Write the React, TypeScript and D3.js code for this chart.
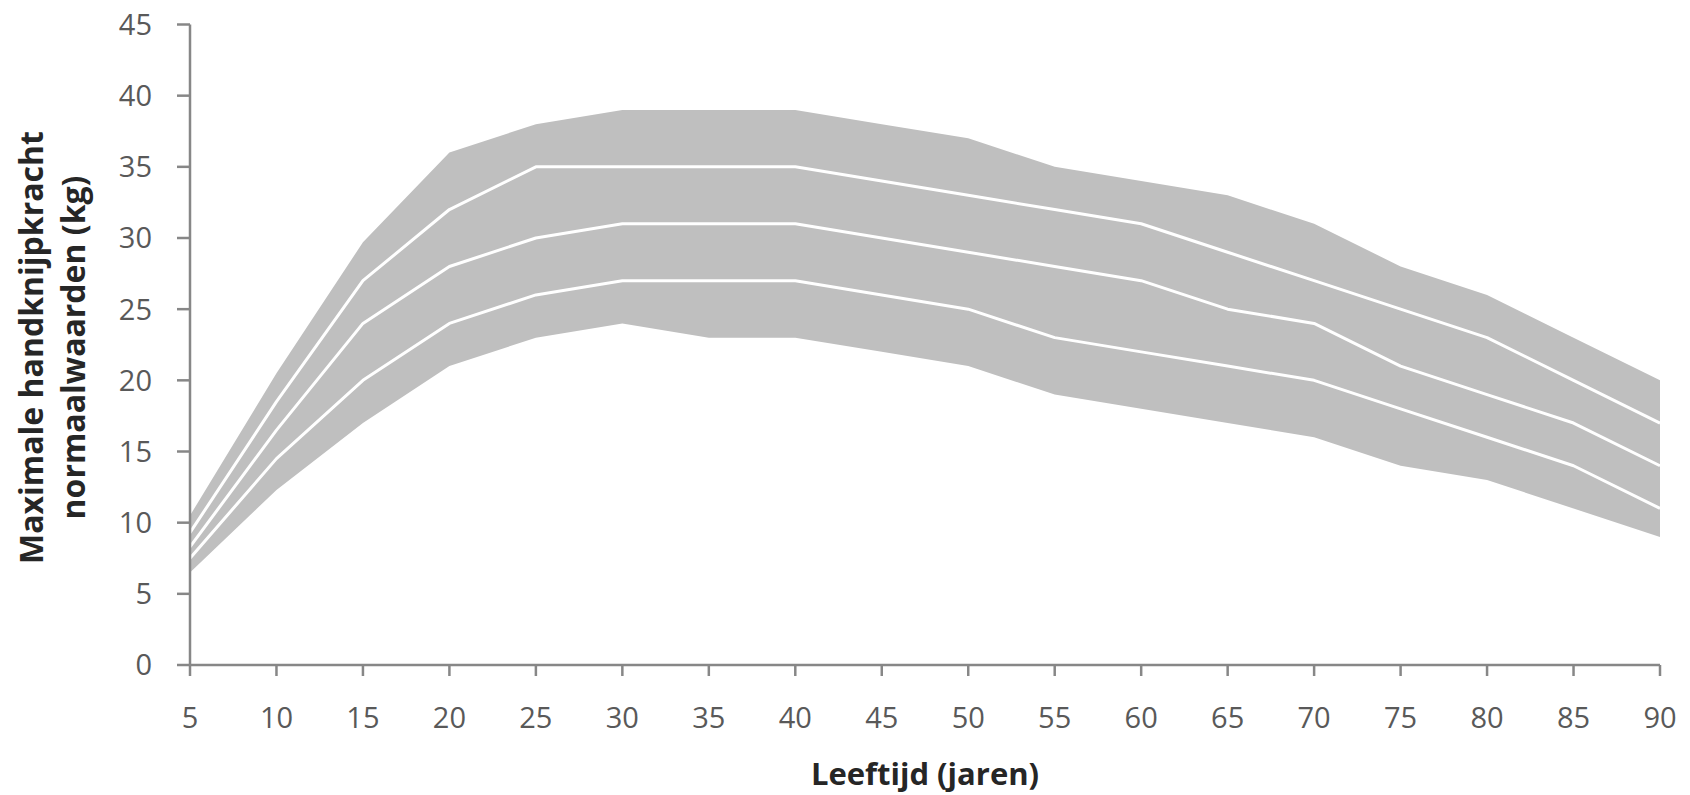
import React from "react";
import * as d3 from "d3";

const ages = [5, 10, 15, 20, 25, 30, 35, 40, 45, 50, 55, 60, 65, 70, 75, 80, 85, 90];
const bandTop = [10.5, 20.5, 29.7, 36, 38, 39, 39, 39, 38, 37, 35, 34, 33, 31, 28, 26, 23, 20];
const lineUpper = [9.3, 18.5, 27, 32, 35, 35, 35, 35, 34, 33, 32, 31, 29, 27, 25, 23, 20, 17];
const lineMiddle = [8.3, 16.5, 24, 28, 30, 31, 31, 31, 30, 29, 28, 27, 25, 24, 21, 19, 17, 14];
const lineLower = [7.5, 14.5, 20, 24, 26, 27, 27, 27, 26, 25, 23, 22, 21, 20, 18, 16, 14, 11];
const bandBottom = [6.5, 12.3, 17, 21, 23, 24, 23, 23, 22, 21, 19, 18, 17, 16, 14, 13, 11, 9];

const yTicks = [0, 5, 10, 15, 20, 25, 30, 35, 40, 45];
const xTicks = ages;

const xTitle = "Leeftijd (jaren)";
const yTitle1 = "Maximale handknijpkracht";
const yTitle2 = "normaalwaarden (kg)";

const W = 1690;
const H = 795;
const axisColor = "#878787";
const textColor = "#595959";
const font = "'Open Sans', 'DejaVu Sans', sans-serif";

export default function App() {
  const x = d3.scaleLinear().domain([5, 90]).range([190, 1660]);
  const y = d3.scaleLinear().domain([0, 45]).range([665, 24.5]);

  const idx = ages.map((_, i) => i);
  const area = d3
    .area<number>()
    .x((i) => x(ages[i]))
    .y0((i) => y(bandBottom[i]))
    .y1((i) => y(bandTop[i]));
  const line = (vals: number[]) =>
    d3
      .line<number>()
      .x((i) => x(ages[i]))
      .y((i) => y(vals[i]))(idx) || "";

  return (
    <svg
      width={W}
      height={H}
      style={{ position: "absolute", left: 0, top: 0, display: "block", background: "#fff" }}
    >
      <path d={area(idx) || ""} fill="#bfbfbf" />
      {[lineUpper, lineMiddle, lineLower].map((vals, k) => (
        <path key={k} d={line(vals)} fill="none" stroke="#ffffff" strokeWidth={3} strokeLinejoin="round" />
      ))}

      {/* Y axis */}
      <line x1={x(5)} x2={x(5)} y1={y(45)} y2={y(0)} stroke={axisColor} strokeWidth={2.5} />
      {yTicks.map((t) => (
        <g key={"y" + t}>
          <line x1={177} x2={x(5)} y1={y(t)} y2={y(t)} stroke={axisColor} strokeWidth={2.5} />
          <text
            x={152}
            y={y(t)}
            dy="0.36em"
            textAnchor="end"
            fontFamily={font}
            fontSize={29}
            fill={textColor}
          >
            {t}
          </text>
        </g>
      ))}

      {/* X axis */}
      <line x1={x(5)} x2={x(90)} y1={y(0)} y2={y(0)} stroke={axisColor} strokeWidth={2.5} />
      {xTicks.map((t) => (
        <g key={"x" + t}>
          <line x1={x(t)} x2={x(t)} y1={y(0)} y2={676} stroke={axisColor} strokeWidth={2.5} />
          <text
            x={x(t)}
            y={728}
            textAnchor="middle"
            fontFamily={font}
            fontSize={29}
            fill={textColor}
          >
            {t}
          </text>
        </g>
      ))}

      {/* Titles */}
      <text
        x={925}
        y={785}
        textAnchor="middle"
        fontFamily={font}
        fontWeight="bold"
        fontSize={31}
        fill="#262626"
      >
        {xTitle}
      </text>
      <text
        transform="translate(43,347.5) rotate(-90)"
        textAnchor="middle"
        fontFamily={font}
        fontWeight="bold"
        fontSize={32}
        fill="#262626"
      >
        {yTitle1}
      </text>
      <text
        transform="translate(85,347.5) rotate(-90)"
        textAnchor="middle"
        fontFamily={font}
        fontWeight="bold"
        fontSize={32}
        fill="#262626"
      >
        {yTitle2}
      </text>
    </svg>
  );
}
